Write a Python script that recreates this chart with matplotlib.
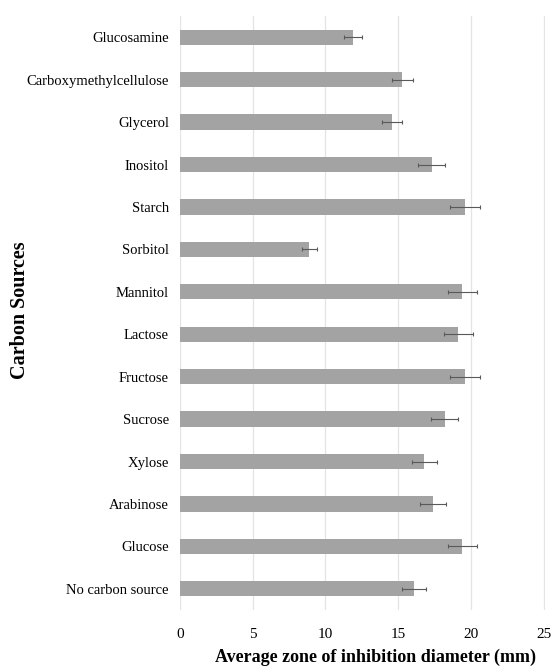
import matplotlib
matplotlib.use("Agg")
import matplotlib.pyplot as plt

categories = [
    "Glucosamine", "Carboxymethylcellulose", "Glycerol", "Inositol", "Starch",
    "Sorbitol", "Mannitol", "Lactose", "Fructose", "Sucrose", "Xylose",
    "Arabinose", "Glucose", "No carbon source",
]
means = [11.9, 15.3, 14.6, 17.3, 19.6, 8.9, 19.4, 19.15, 19.6, 18.2, 16.8, 17.4, 19.4, 16.1]
errors = [0.6, 0.75, 0.7, 0.9, 1.0, 0.5, 1.0, 1.0, 1.0, 0.95, 0.85, 0.9, 1.0, 0.85]
xticks = [0, 5, 10, 15, 20, 25]

plt.rcParams["font.family"] = ["Liberation Serif", "DejaVu Serif"]

fig = plt.figure(figsize=(5.51, 6.68), dpi=100)
ax = fig.add_axes([180 / 551, 1 - 610 / 668, (545 - 180) / 551, (610 - 16) / 668])

pos = list(range(len(categories)))
ax.barh(pos, means, height=0.36, color="#a3a3a3", zorder=2)
ax.errorbar(means, pos, xerr=errors, fmt="none", ecolor="#595959",
            elinewidth=0.8, capsize=1.5, capthick=0.8, zorder=3)

ax.set_ylim(len(categories) - 0.5, -0.5)
ax.set_xlim(0, 25.1)
ax.set_yticks(pos)
ax.set_yticklabels(categories, fontsize=10.5)
ax.set_xticks(xticks)
ax.set_xticklabels([str(t) for t in xticks], fontsize=11)
ax.tick_params(axis="both", length=0)
ax.tick_params(axis="x", pad=13)
ax.tick_params(axis="y", pad=8)

ax.grid(axis="x", color="#e4e4e4", linewidth=0.9, zorder=0)
for s in ax.spines.values():
    s.set_visible(False)

ax.set_xlabel("Average zone of inhibition diameter (mm)", fontsize=13,
              fontweight="bold")
ax.xaxis.set_label_coords(0.535, -47 / 594, transform=ax.transAxes)
ax.xaxis.label.set_va("center")
ax.set_ylabel("Carbon Sources", fontsize=14.5, fontweight="bold")
ax.yaxis.set_label_coords(-160 / 365, 0.505)
ax.yaxis.label.set_ha("center")
ax.yaxis.label.set_va("center")

fig.savefig("out.png", dpi=100, facecolor="white")
